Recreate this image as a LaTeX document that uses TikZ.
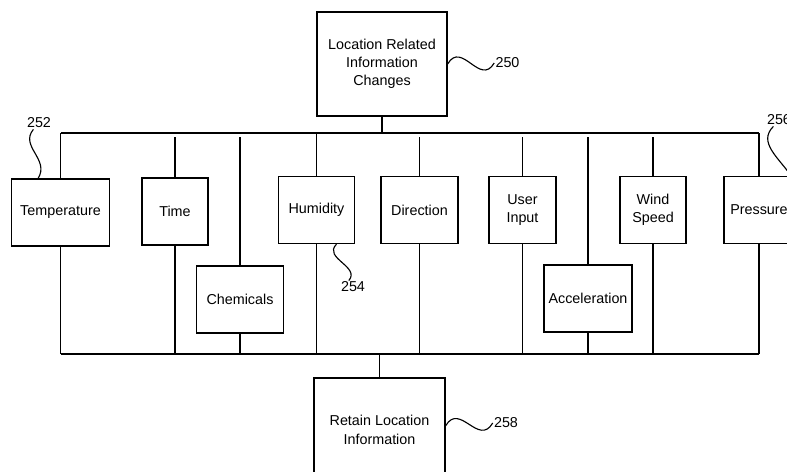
\documentclass[tikz,border=0pt]{standalone}
\usepackage{fontspec}
\setmainfont{Liberation Sans}
\usepackage{tikz}
\usetikzlibrary{calc}

\begin{document}
\begin{tikzpicture}[x=0.025cm,y=-0.025cm,line width=0.9pt,
    blk/.style={draw,align=center,inner sep=1pt,minimum height=1.675cm,
      font=\fontsize{10.2}{13}\selectfont},
    bigblk/.style={blk,minimum height=2.6cm},
    refnum/.style={inner sep=0.5pt,font=\fontsize{10.2}{13}\selectfont}]
  \useasboundingbox (0,0) rectangle (787,472);
  \node[bigblk,minimum width=3.25cm] (lric) at (382,64)
    {Location Related\\Information\\Changes};
  \node[bigblk,minimum width=3.275cm] (retain) at (379.5,430)
    {Retain Location\\Information};
  \foreach \nm/\x/\y/\w/\txt in {temp/60.5/212.5/2.45/Temperature,
      time/175/211.5/1.65/Time, chem/240/299.5/2.175/Chemicals,
      humid/316.5/210/1.9/Humidity, dir/419.5/210/1.925/Direction,
      user/522.5/210/1.675/{User\\Input}, accel/588/298.5/2.2/Acceleration,
      wind/653/210/1.65/{Wind\\Speed}, press/759/210/1.75/Pressure}
    \node[blk,minimum width=\w cm] (\nm) at (\x,\y) {\txt};
  \coordinate (topbus) at (0,133);
  \coordinate (topgap) at (0,137.5);
  \coordinate (botbus) at (0,354);
  \draw (temp.north |- topbus) -- (press.north |- topbus);
  \draw (temp.south |- botbus) -- (press.south |- botbus);
  \draw (lric.south) -- (lric.south |- topbus);
  \draw (retain.north) -- (retain.north |- botbus);
  \foreach \nm in {temp,humid,press}
    \draw (\nm.north) -- (\nm.north |- topbus);
  \foreach \nm in {time,chem,dir,user,accel,wind}
    \draw (\nm.north) -- (\nm.north |- topgap);
  \foreach \nm in {temp,time,chem,humid,dir,user,accel,wind,press}
    \draw (\nm.south) -- (\nm.south |- botbus);
  \node[refnum] (l250) at (507.5,63) {250};
  \node[refnum] (l258) at (506,423) {258};
  \node[refnum] (l252) at (39,123) {252};
  \node[refnum] (l254) at (353,287) {254};
  \node[refnum] (l256) at (779,120) {256};
  \draw[line width=0.8pt] (lric.east) .. controls +(14,-24) and +(-14,24) .. (l250.west);
  \draw[line width=0.8pt] ([yshift=3pt]retain.east) .. controls +(14,-24) and +(-14,24) .. (l258.west);
  \draw[line width=0.8pt] ([xshift=-4pt]l252.south) .. controls +(-14,17) and +(12,-19) .. ([xshift=-0.56cm]temp.north);
  \draw[line width=0.8pt] ([xshift=0.5cm]humid.south) .. controls +(-14,14) and +(12,-14) .. ([xshift=-3pt]l254.north);
  \draw[line width=0.8pt] ([xshift=-4pt]l256.south) .. controls +(-16,16) and +(-12,-18) .. ([xshift=0.8cm]press.north);
\end{tikzpicture}
\end{document}
